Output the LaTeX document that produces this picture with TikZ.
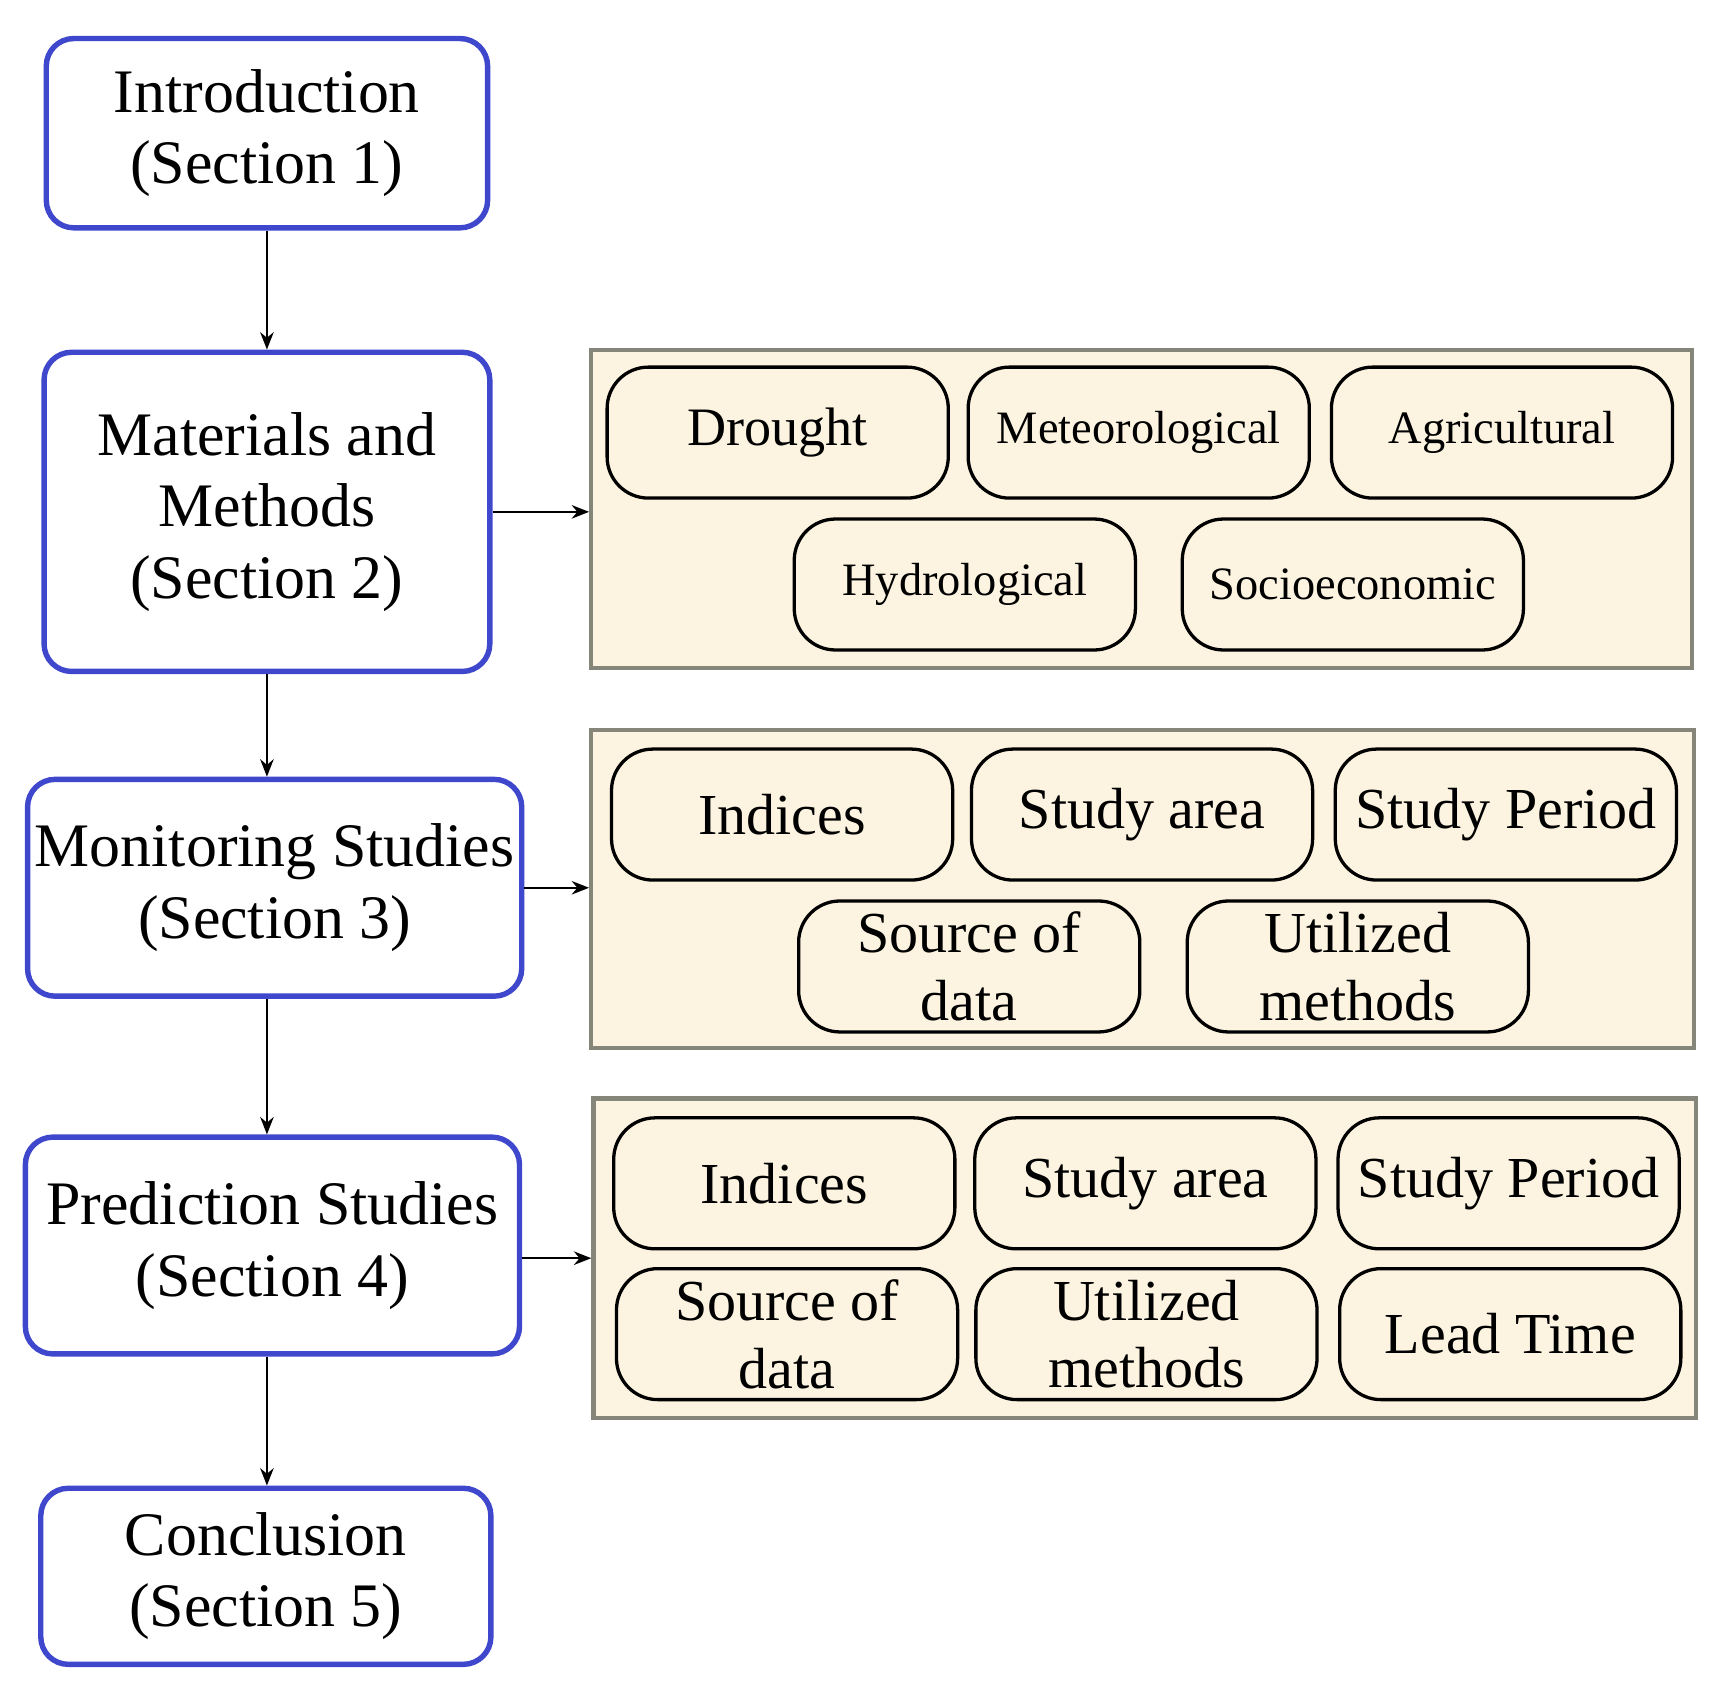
\documentclass[tikz,border=0pt]{standalone}
\usepackage{fontspec}
\setmainfont{Liberation Serif}
\usetikzlibrary{arrows.meta}
\definecolor{secblue}{HTML}{3F48CC}
\definecolor{panelfill}{HTML}{FCF4E0}
\definecolor{panelgray}{HTML}{85857A}
\tikzset{
  section/.style={draw=secblue, line width=2.8pt, rounded corners=0.5cm, fill=white,
    align=center, font=\fontsize{32}{37}\selectfont, inner sep=0pt},
  panel/.style={draw=panelgray, line width=2.2pt, fill=panelfill, inner sep=0pt},
  item/.style={draw=black, line width=1.7pt, rounded corners=0.75cm, fill=panelfill,
    minimum width=6.2cm, minimum height=2.38cm, align=center, inner sep=0pt},
  flow/.style={-{Stealth[length=9pt,width=7pt]}, line width=1.1pt}
}
\begin{document}
\begin{tikzpicture}[x=0.02cm, y=-0.02cm]
  \useasboundingbox (0,0) rectangle (1568,1530);

  % sections
  \node[section, minimum width=8.02cm, minimum height=3.44cm] (intro) at (242.5,121) {Introduction\\(Section 1)};
  \node[section, minimum width=8.1cm, minimum height=5.8cm] (mat) at (242.5,465) {Materials and\\Methods\\(Section 2)};
  \node[section, minimum width=8.98cm, minimum height=3.94cm] (mon) at (249.5,806.5) {Monitoring Studies\\(Section 3)};
  \node[section, minimum width=8.98cm, minimum height=3.94cm] (pred) at (247.5,1131.5) {Prediction Studies\\(Section 4)};
  \node[section, minimum width=8.18cm, minimum height=3.2cm] (conc) at (241.5,1432) {Conclusion\\(Section 5)};

  % panels
  \node[panel, minimum width=20cm, minimum height=5.78cm] (p1) at (1037,462.5) {};
  \node[panel, minimum width=20.04cm, minimum height=5.78cm] (p2) at (1038,807.5) {};
  \node[panel, minimum width=20.04cm, minimum height=5.8cm] (p3) at (1040,1143) {};

  % panel 1
  \node[item, font=\fontsize{28}{33}\selectfont] (drought) at (706.5,393) {Drought};
  \node[item, font=\fontsize{24}{29}\selectfont] (meteo) at (1034.5,393) {Meteorological};
  \node[item, font=\fontsize{24}{29}\selectfont] (agri) at (1364.5,393) {Agricultural};
  \node[item, font=\fontsize{24}{29}\selectfont] (hydro) at (876.5,531) {Hydrological};
  \node[item, font=\fontsize{24}{29}\selectfont] (socio) at (1229,531) {Socioeconomic};

  % panel 2
  \node[item, font=\fontsize{30}{35}\selectfont] (mindex) at (710.5,740) {Indices};
  \node[item, font=\fontsize{30}{35}\selectfont] (marea) at (1037.5,740) {Study area};
  \node[item, font=\fontsize{30}{35}\selectfont] (mperiod) at (1368,740) {Study Period};
  \node[item, font=\fontsize{30}{35}\selectfont] (msource) at (880.5,878) {Source of\\data};
  \node[item, font=\fontsize{30}{35}\selectfont] (mmethod) at (1233.5,878) {Utilized\\methods};

  % panel 3
  \node[item, font=\fontsize{30}{35}\selectfont] (pindex) at (712.5,1075) {Indices};
  \node[item, font=\fontsize{30}{35}\selectfont] (parea) at (1040.5,1075) {Study area};
  \node[item, font=\fontsize{30}{35}\selectfont] (pperiod) at (1370.5,1075) {Study Period};
  \node[item, font=\fontsize{30}{35}\selectfont] (psource) at (715,1212) {Source of\\data};
  \node[item, font=\fontsize{30}{35}\selectfont] (pmethod) at (1041.5,1212) {Utilized\\methods};
  \node[item, font=\fontsize{30}{35}\selectfont] (plead) at (1372,1212) {Lead Time};

  % arrows
  \draw[flow] (intro) -- (mat);
  \draw[flow] (mat) -- (mat |- mon.north);
  \draw[flow] (mon.south -| mat) -- (mat |- pred.north);
  \draw[flow] (pred.south -| mat) -- (mat |- conc.north);
  \draw[flow] (mat.east) -- (p1.west |- mat.east);
  \draw[flow] (mon.east) -- (p2.west |- mon.east);
  \draw[flow] (pred.east |- p3.west) -- (p3.west);
\end{tikzpicture}
\end{document}
